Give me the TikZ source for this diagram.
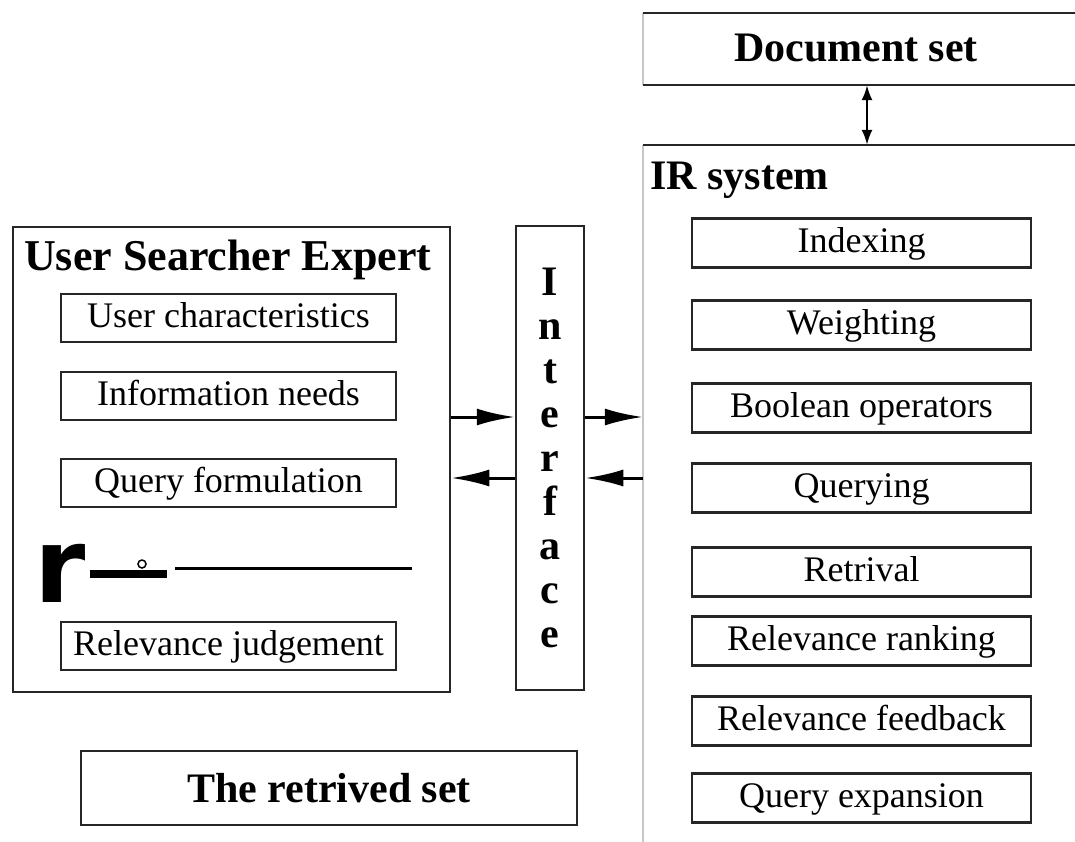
\documentclass[tikz,border=0pt]{standalone}
\usepackage{fontspec}
\setmainfont{Liberation Serif}
\newfontfamily\rglyph{DejaVu Sans}
\usetikzlibrary{arrows.meta}
\begin{document}
\begin{tikzpicture}[x=1pt,y=-1pt,
  ln/.style={draw=black!85, line width=2.5pt},
  edgegray/.style={draw=black!22, line width=2.5pt},
  subir/.style={ln, rectangle, minimum width=339pt, minimum height=49pt, inner sep=0pt, font=\fontsize{36}{40}\selectfont, text height=25pt, text depth=6pt},
  subuser/.style={subir, minimum width=335pt, minimum height=48pt},
  bigt/.style={font=\fontsize{42}{44}\selectfont\bfseries},
  arr/.style={line width=3pt, draw=black, -{Latex[length=38pt,width=17pt]}},
  darr/.style={line width=2.2pt, {Latex[length=15pt,width=11pt]}-{Latex[length=15pt,width=11pt]}}
]
\useasboundingbox (0,0) rectangle (1075,842);
\clip (0,0) rectangle (1075,842);
\fill[white] (0,0) rectangle (1075,842);

% Document set
\node[minimum width=448pt, minimum height=72pt, inner sep=0pt] (doc) at (867,49) {};
\draw[edgegray] (doc.north west) -- (doc.south west);
\draw[ln] (doc.north west) -- (doc.north east);
\draw[ln] (doc.south west) -- (doc.south east);
\node[bigt, anchor=base, inner sep=0pt] (doctext) at (856,62) {Document set};

% IR system
\node[minimum width=448pt, minimum height=720pt, inner sep=0pt] (ir) at (867,505) {};
\draw[edgegray] (ir.north west) -- (ir.south west);
\draw[ln] (ir.north west) -- (ir.north east);
\node[bigt, anchor=base west, inner sep=0pt] (irt) at (650,190) {IR system};
\draw[darr] (doc.south) -- (ir.north);

\node[subir] (idx) at (861.5,243) {Indexing};
\node[subir] (wgt) at (861.5,325) {Weighting};
\node[subir] (bool) at (861.5,408) {Boolean operators};
\node[subir] (qry) at (861.5,488) {Querying};
\node[subir] (ret) at (861.5,572) {Retrival};
\node[subir] (rrank) at (861.5,641) {Relevance ranking};
\node[subir] (rfb) at (861.5,721) {Relevance feedback};
\node[subir] (qexp) at (861.5,798) {Query expansion};

% User box
\node[ln, minimum width=437pt, minimum height=465pt, inner sep=0pt] (user) at (231.5,459.5) {};
\node[font=\fontsize{44}{46}\selectfont\bfseries, anchor=base west, inner sep=0pt] (ut) at (24,270) {User Searcher Expert};
\node[subuser] (uc) at (228.5,318) {User characteristics};
\node[subuser] (inn) at (228.5,396) {Information needs};
\node[subuser] (qf) at (228.5,483) {Query formulation};
\node[subuser] (rj) at (228.5,646) {Relevance judgement};

% r-glyph artefact
\node[font=\rglyph\bfseries\fontsize{104}{104}\selectfont, anchor=base west, inner sep=0pt] (rr) at (34,602) {r};
\fill (90,570) rectangle (167,578);
\draw[line width=1.5pt, fill=white] (142,564) circle (4pt);
\draw[line width=3pt] (175,568) -- (412,568);

% Interface
\node[ln, minimum width=68pt, minimum height=464pt, inner sep=0pt, bigt, align=center] (iface) at (550,458) {I\\n\\t\\e\\r\\f\\a\\c\\e};

% Retrieved set
\node[ln, minimum width=496pt, minimum height=74pt, inner sep=0pt, bigt] (rs) at (329,788) {The retrived set};

% Arrows
\coordinate (a1) at (0,417);
\coordinate (a2) at (0,478);
\draw[arr] (user.east |- a1) -- (iface.west |- a1);
\draw[arr] (iface.west |- a2) -- (user.east |- a2);
\draw[arr] (iface.east |- a1) -- (ir.west |- a1);
\draw[arr] (ir.west |- a2) -- (iface.east |- a2);
\end{tikzpicture}
\end{document}
